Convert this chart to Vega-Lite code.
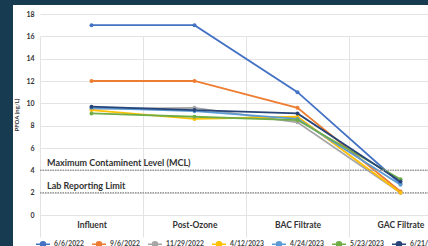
{
  "$schema": "https://vega.github.io/schema/vega-lite/v6.json",
  "width": 415,
  "height": 241,
  "autosize": {"type": "none"},
  "padding": {"left": 13, "top": 5, "right": 0, "bottom": 0},
  "background": "#173b51",
  "config": {
    "view": {"fill": "white", "stroke": null},
    "font": "Lato",
    "axis": {"domain": false, "ticks": false, "gridColor": "#e3e3e3", "gridWidth": 1, "labelColor": "#333333", "labelFontWeight": "bold", "titleColor": "#333333"}
  },
  "datasets": {
    "pfoa": [
      {"date": "6/6/2022", "stage": "Influent", "value": 17.0},
      {"date": "6/6/2022", "stage": "Post-Ozone", "value": 17.0},
      {"date": "6/6/2022", "stage": "BAC Filtrate", "value": 11.0},
      {"date": "6/6/2022", "stage": "GAC Filtrate", "value": 2.8},
      {"date": "9/6/2022", "stage": "Influent", "value": 12.0},
      {"date": "9/6/2022", "stage": "Post-Ozone", "value": 12.0},
      {"date": "9/6/2022", "stage": "BAC Filtrate", "value": 9.6},
      {"date": "9/6/2022", "stage": "GAC Filtrate", "value": 2.1},
      {"date": "11/29/2022", "stage": "Influent", "value": 9.5},
      {"date": "11/29/2022", "stage": "Post-Ozone", "value": 9.6},
      {"date": "11/29/2022", "stage": "BAC Filtrate", "value": 8.3},
      {"date": "11/29/2022", "stage": "GAC Filtrate", "value": 2.0},
      {"date": "4/12/2023", "stage": "Influent", "value": 9.4},
      {"date": "4/12/2023", "stage": "Post-Ozone", "value": 8.6},
      {"date": "4/12/2023", "stage": "BAC Filtrate", "value": 8.8},
      {"date": "4/12/2023", "stage": "GAC Filtrate", "value": 2.0},
      {"date": "4/24/2023", "stage": "Influent", "value": 9.6},
      {"date": "4/24/2023", "stage": "Post-Ozone", "value": 9.3},
      {"date": "4/24/2023", "stage": "BAC Filtrate", "value": 8.6},
      {"date": "4/24/2023", "stage": "GAC Filtrate", "value": 2.7},
      {"date": "5/23/2023", "stage": "Influent", "value": 9.1},
      {"date": "5/23/2023", "stage": "Post-Ozone", "value": 8.8},
      {"date": "5/23/2023", "stage": "BAC Filtrate", "value": 8.5},
      {"date": "5/23/2023", "stage": "GAC Filtrate", "value": 3.2},
      {"date": "6/21/2023", "stage": "Influent", "value": 9.7},
      {"date": "6/21/2023", "stage": "Post-Ozone", "value": 9.4},
      {"date": "6/21/2023", "stage": "BAC Filtrate", "value": 9.1},
      {"date": "6/21/2023", "stage": "GAC Filtrate", "value": 3.0}
    ],
    "limits": [
      {"label": "Maximum Contaminent Level (MCL)", "level": 4},
      {"label": "Lab Reporting Limit", "level": 2}
    ]
  },
  "layer": [
    {
      "data": {"name": "pfoa"},
      "mark": {"type": "line", "strokeWidth": 1.8},
      "encoding": {
        "x": {"field": "stage", "type": "nominal", "sort": ["Influent", "Post-Ozone", "BAC Filtrate", "GAC Filtrate"],
              "scale": {"domain": ["Influent", "Post-Ozone", "BAC Filtrate", "GAC Filtrate"], "range": [27, 439], "paddingInner": 0, "paddingOuter": 0},
              "axis": {"title": null, "orient": "bottom", "offset": -31, "grid": true, "tickBand": "extent", "labelAngle": 0, "labelFontSize": 8.5, "labelPadding": 5}},
        "y": {"field": "value", "type": "quantitative",
              "scale": {"domain": [0, 18], "range": [210, 9], "nice": false},
              "axis": {"title": "PFOA (ng/L)", "titleFontSize": 6, "titleFontWeight": "bold", "values": [0, 2, 4, 6, 8, 10, 12, 14, 16, 18], "tickCount": 10, "labelOverlap": false, "offset": -27, "grid": true, "labelFontSize": 7, "labelPadding": 6, "titlePadding": 6}},
        "color": {"field": "date", "type": "nominal",
                  "scale": {"domain": ["6/6/2022", "9/6/2022", "11/29/2022", "4/12/2023", "4/24/2023", "5/23/2023", "6/21/2023"],
                            "range": ["#4472c4", "#ed7d31", "#a5a5a5", "#ffc000", "#5b9bd5", "#70ad47", "#264478"]},
                  "legend": {"title": null, "orient": "none", "legendX": 22, "legendY": 231, "direction": "horizontal", "columns": 7,
                             "symbolType": "M-1,0L1,0M-0.36,0A0.36,0.36,0,1,1,0.36,0A0.36,0.36,0,1,1,-0.36,0Z", "symbolSize": 196, "symbolStrokeWidth": 1.5,
                             "labelFontSize": 6.8, "labelFontWeight": "bold", "labelColor": "#444444", "columnPadding": 5, "labelOffset": 3}}
      }
    },
    {
      "data": {"name": "limits"},
      "mark": {"type": "rule", "color": "#9a9a9a", "strokeWidth": 1.5, "strokeDash": [1.5, 1]},
      "encoding": {
        "y": {"field": "level", "type": "quantitative"},
        "x": {"datum": "Influent", "type": "nominal", "bandPosition": 0},
        "x2": {"datum": "GAC Filtrate", "bandPosition": 1}
      }
    },
    {
      "data": {"name": "limits"},
      "mark": {"type": "text", "align": "left", "baseline": "bottom", "dx": 7, "dy": -2, "fontSize": 9, "fontWeight": "bold", "color": "#333333"},
      "encoding": {
        "y": {"field": "level", "type": "quantitative"},
        "x": {"datum": "Influent", "type": "nominal", "bandPosition": 0},
        "text": {"field": "label"}
      }
    },
    {
      "data": {"name": "pfoa"},
      "mark": {"type": "point", "filled": true, "size": 16, "opacity": 1},
      "encoding": {
        "x": {"field": "stage", "type": "nominal", "sort": ["Influent", "Post-Ozone", "BAC Filtrate", "GAC Filtrate"]},
        "y": {"field": "value", "type": "quantitative"},
        "color": {"field": "date", "type": "nominal"}
      }
    }
  ]
}
